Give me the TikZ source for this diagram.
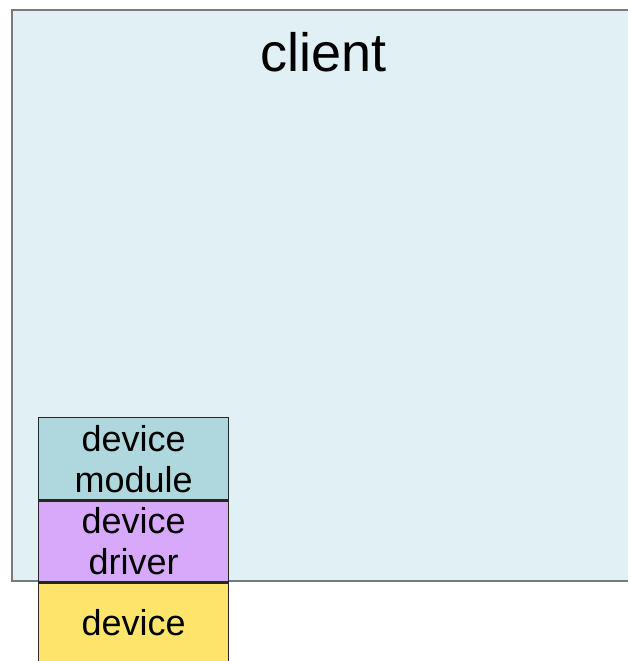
\documentclass[tikz,border=0pt]{standalone}
\usepackage{fontspec}
\setmainfont{Liberation Sans}
\definecolor{clientfill}{HTML}{E1F0F4}
\definecolor{clientline}{HTML}{7A7A7A}
\definecolor{modfill}{HTML}{AED8DD}
\definecolor{drvfill}{HTML}{D8A9FB}
\definecolor{devfill}{HTML}{FDE56B}
\begin{document}
\begin{tikzpicture}[x=1pt,y=1pt,
  layer/.style={draw=black!85, line width=1.3pt, minimum width=190pt,
    inner sep=0pt, align=center, anchor=north west,
    font=\fontsize{36}{41}\selectfont}]
\clip (0,0) rectangle (628,661);
% the client area, running past the right edge
\node[draw=clientline, fill=clientfill, line width=2pt, inner sep=0pt,
  minimum width=640pt, minimum height=571pt, anchor=north west]
  (client) at (11,652) {};
\node[font=\fontsize{54}{60}\selectfont, anchor=base] (clientlabel)
  at (323.5,589) {client};
% stacked layers
\node[layer, fill=modfill, minimum height=82pt] (module) at (38,244) {device\\module};
\node[layer, fill=drvfill, minimum height=81pt] (driver) at (module.south west) {device\\driver};
\node[layer, fill=devfill, minimum height=78pt] (device) at (driver.south west) {device};
\end{tikzpicture}
\end{document}
